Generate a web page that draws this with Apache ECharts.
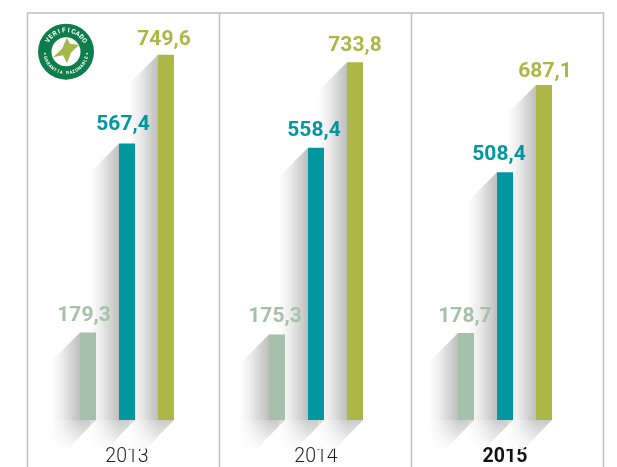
<!DOCTYPE html>
<html><head><meta charset="utf-8">
<script src="https://cdn.jsdelivr.net/npm/echarts@6/dist/echarts.min.js"></script>
<style>html,body{margin:0;padding:0;background:#fff}#c{width:617px;height:467px}</style></head>
<body><div id="c"></div>
<script>
const years = ['2013', '2014', '2015'];
const seriesA = [179.3, 175.3, 178.7];
const seriesB = [567.4, 558.4, 508.4];
const seriesC = [749.6, 733.8, 687.1];

const colors = ['#a6c1ab', '#0097a1', '#abb848'];
const nudgeX = [[-4, -2, -1], [-4, -2, -6], [-2, 0, 1]];
const nudgeY = [[-1.5, -2, -1], [-3, -2, -2], [1, -1.5, 2]];
const barW = 16, step = 39, sh = 29;
const all = [seriesA, seriesB, seriesC];
const font = 'Roboto, sans-serif';
const chart = echarts.init(document.getElementById('c'), null, {renderer: 'canvas'});

function shadowItem(offset) {
  return function (params, api) {
    const base = api.coord([api.value(0), 0]);
    const top = api.coord([api.value(0), api.value(1)]);
    const x0 = base[0] + offset - barW / 2, x1 = x0 + barW, yB = base[1], yT = top[1];
    const span = sh + barW;
    return {type: 'group', silent: true, children: [
      {type: 'polygon',
       shape: {points: [[x0, yT], [x0 - sh, yT + sh], [x0 - sh, yB + sh], [x1 - sh, yB + sh], [x1, yB], [x0, yB]]},
       style: {fill: new echarts.graphic.LinearGradient(0, 0, 1, 0, [
         {offset: 0, color: 'rgba(190,190,190,0)'},
         {offset: 0.25, color: 'rgba(190,190,190,0.3)'},
         {offset: sh / span, color: 'rgba(190,190,190,1)'},
         {offset: 1, color: 'rgba(190,190,190,1)'}])}},
      {type: 'polygon',
       shape: {points: [[x0 - sh, yB], [x1, yB], [x1 - sh, yB + sh], [x0 - sh, yB + sh]]},
       style: {fill: new echarts.graphic.LinearGradient(0, 0, 0, 1, [
         {offset: 0, color: 'rgba(255,255,255,0.2)'},
         {offset: 1, color: 'rgba(255,255,255,0.95)'}])}}
    ]};
  };
}

const bars = all.map((vals, s) => ({
  type: 'bar', z: 3, barWidth: barW, barGap: ((step - barW) / barW * 100) + '%',
  itemStyle: {color: colors[s]},
  data: vals.map((v, i) => ({value: v, label: {offset: [nudgeX[s][i], nudgeY[s][i]]}})),
  label: {show: true, position: 'top', distance: 5, color: colors[s], fontFamily: font, fontWeight: 700, fontSize: 21,
    formatter: p => p.value.toFixed(1).replace('.', ',')},
  silent: true
}));
const shadows = all.map((vals, s) => ({
  type: 'custom', z: 1, clip: false, silent: true,
  renderItem: shadowItem((s - 1) * step),
  encode: {x: 0, y: 1},
  data: vals.map((v, i) => [i, v])
}));

// Badge (decoration)
const bx = 66, by = 51.7;
const starPts = [[0.7,-13.7],[4,-8],[13,-6.7],[5,1],[1,11.5],[-3,3.5],[-13,5.5],[-4,-3]]
  .map(p => [bx + p[0], by + p[1]]);
function arcText(str, r, size, startDeg, stepDeg, bottom) {
  return str.split('').map((ch, i) => {
    const deg = startDeg + i * stepDeg;
    const a = deg * Math.PI / 180;
    return {type: 'text', z: 12, x: bx + r * Math.sin(a), y: by - r * Math.cos(a),
      rotation: bottom ? -(a - Math.PI) : -a,
      style: {text: ch, fill: '#fff', font: '700 ' + size + 'px ' + font, textAlign: 'center', textVerticalAlign: 'middle'}};
  });
}
const graphic = [
  {type: 'polyline', z: 5, shape: {points: [[27.5, 470], [27.5, 13], [603.5, 13], [603.5, 470]]},
   style: {stroke: '#bfbfbf', lineWidth: 1.5, fill: null}},
  {type: 'line', z: 5, shape: {x1: 219.5, y1: 13, x2: 219.5, y2: 470}, style: {stroke: '#bfbfbf', lineWidth: 1.5}},
  {type: 'line', z: 5, shape: {x1: 411.5, y1: 13, x2: 411.5, y2: 470}, style: {stroke: '#bfbfbf', lineWidth: 1.5}},
  {type: 'ring', z: 10, shape: {cx: bx, cy: by, r: 28, r0: 14.5}, style: {fill: '#0e7d4b'}},
  {type: 'polygon', z: 12, shape: {points: starPts}, style: {fill: '#a4b74b'}},
  {type: 'circle', z: 12, shape: {cx: bx - 21, cy: by + 2, r: 0.9}, style: {fill: '#fff'}},
  {type: 'circle', z: 12, shape: {cx: bx + 21, cy: by + 2, r: 0.9}, style: {fill: '#fff'}},
  ...arcText('VERIFICADO', 21, 6.5, -58, 13, false),
  ...arcText('GARANTÍA RAZONABLE', 21.5, 4.4, 254, -8.7, true)
];

chart.setOption({
  animation: false,
  backgroundColor: '#fff',
  graphic,
  grid: {left: 32.5, right: 17.5, top: 13, bottom: 46},
  xAxis: {type: 'category', data: years, axisLine: {show: false}, axisTick: {show: false},
    axisLabel: {margin: 27, fontFamily: font, fontSize: 19.5, fontWeight: 300, color: '#1f1f1f',
      formatter: v => v === '2015' ? '{b|' + v + '}' : v,
      rich: {b: {fontFamily: font, fontSize: 19.5, fontWeight: 700, color: '#111'}}}},
  yAxis: {type: 'value', min: 0, max: 835, show: false, splitLine: {show: false}},
  series: [...shadows, ...bars]
});
</script></body></html>
